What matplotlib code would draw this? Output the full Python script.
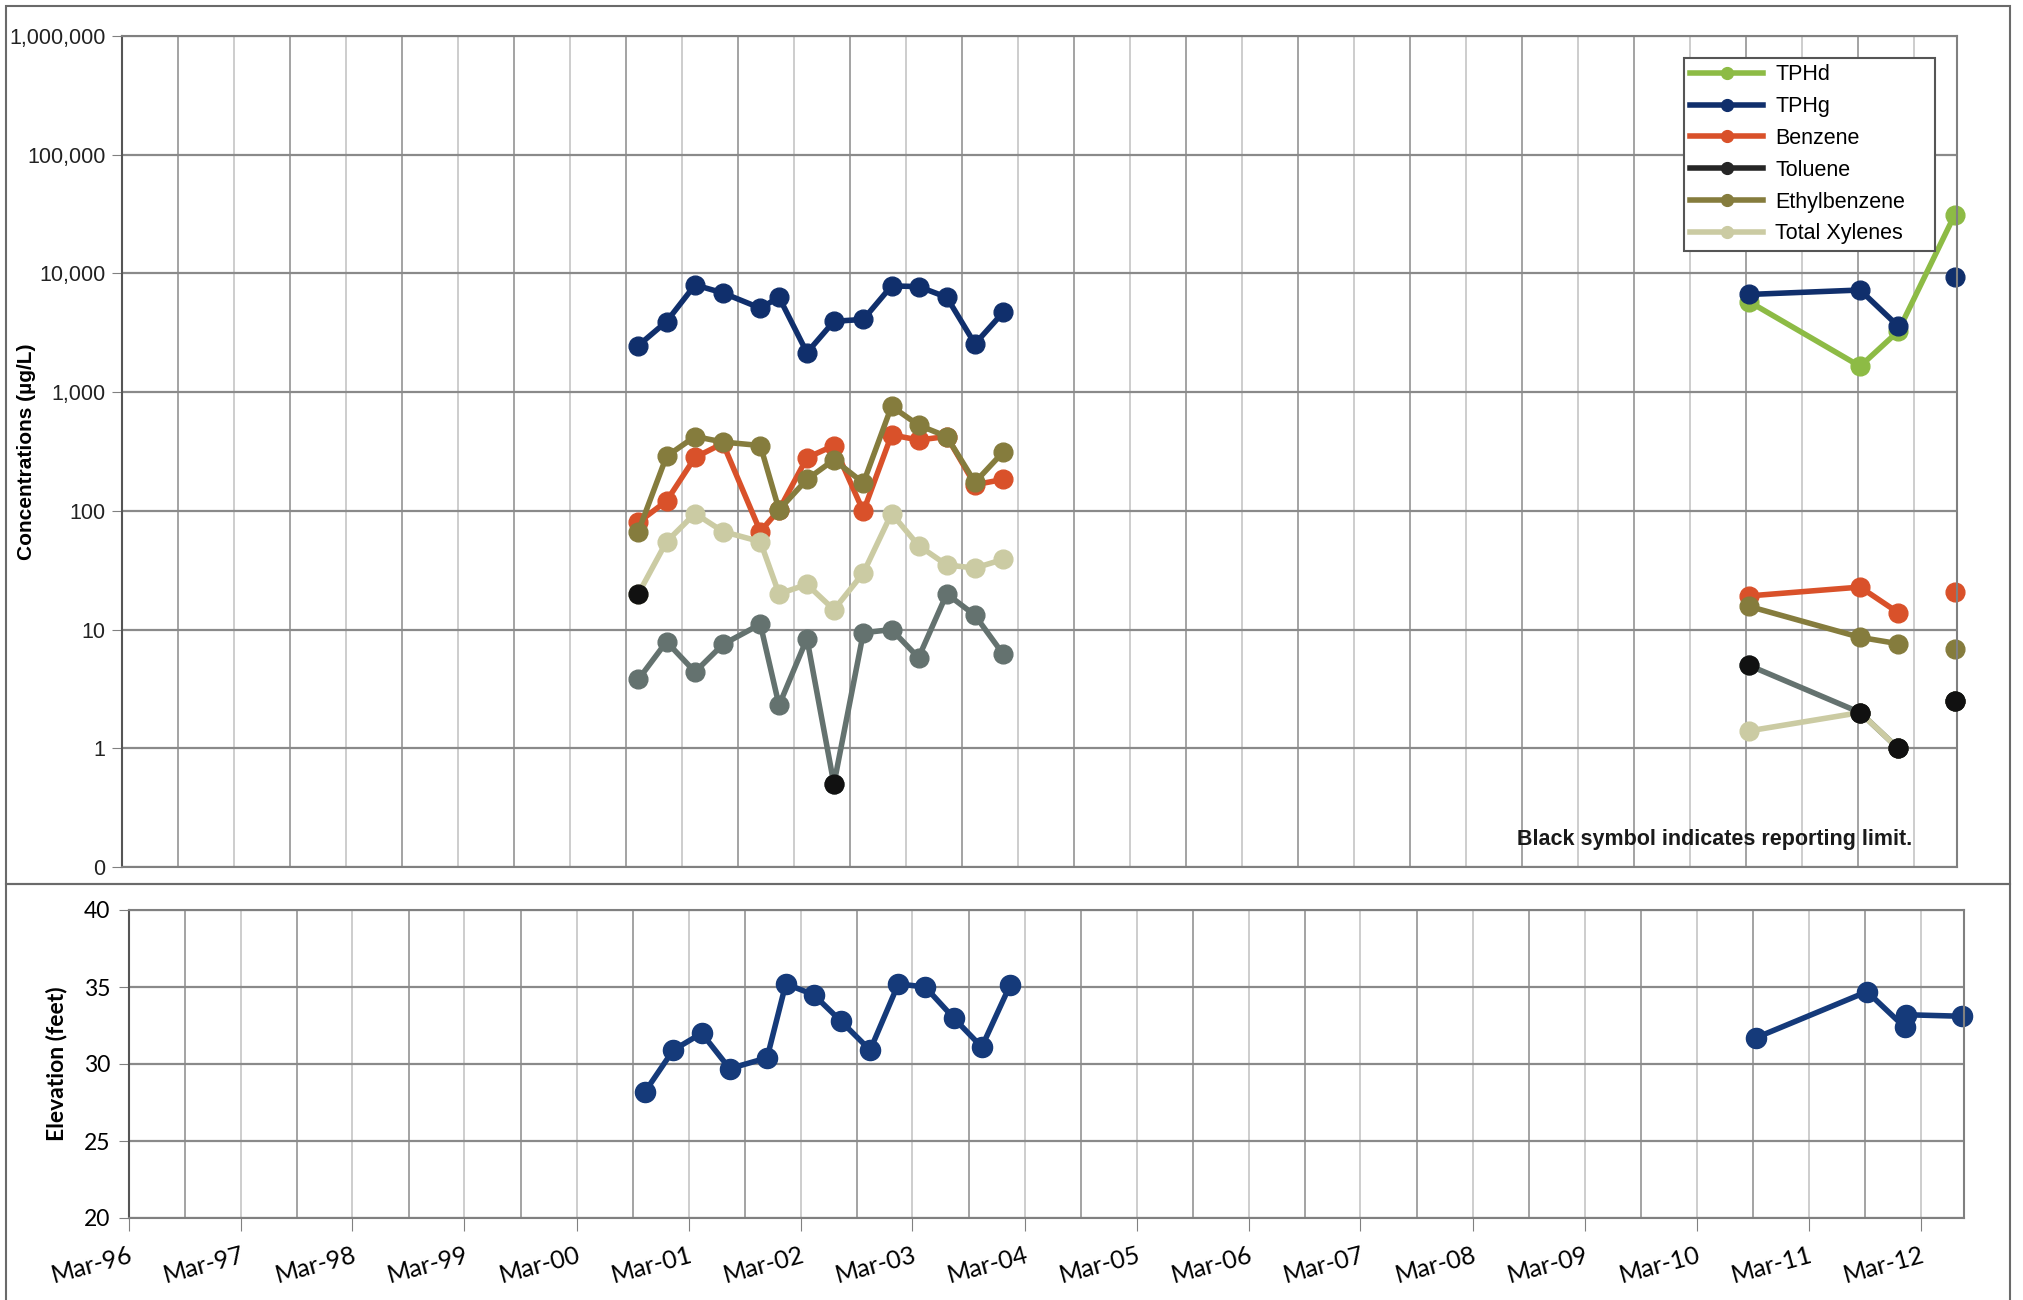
import matplotlib
matplotlib.use("Agg")
import matplotlib.pyplot as plt
import matplotlib.dates as mdates
from matplotlib.lines import Line2D
from matplotlib.patches import Rectangle
from matplotlib.ticker import FixedLocator, NullFormatter
import numpy as np
import pandas as pd
from datetime import datetime

nan = np.nan

# sampling events (two monitoring periods)
sample_dates = pd.to_datetime([
    "2000-10-10", "2001-01-10", "2001-04-13", "2001-07-13", "2001-11-12",
    "2002-01-12", "2002-04-13", "2002-07-10", "2002-10-14", "2003-01-14",
    "2003-04-12", "2003-07-13", "2003-10-13", "2004-01-13",
    "2010-09-10", "2011-09-08", "2012-01-10", "2012-07-12",
])

# concentrations, ug/L
tphd = [nan] * 14 + [5800, 1650, 3250, 31000]
tphg = [2470, 3930, 8000, 6850, 5100, 6300, 2150, 3950, 4100, 7850,
        7750, 6300, 2550, 4700, 6650, 7250, 3600, 9400]
benzene = [80, 121, 282, 370, 67, 102, 280, 355, 99, 437,
           395, 423, 166, 184, 19.2, 22.8, 13.9, 20.9]
toluene = [3.8, 7.9, 4.4, 7.5, 11.1, 2.3, 8.4, 0.5, 9.4, 10.0,
           5.8, 20, 13.2, 6.2, 5.0, 2.0, 1.0, 2.5]
ethylbenzene = [67, 288, 423, 380, 355, 102, 184, 269, 172, 760,
                527, 423, 174, 313, 15.7, 8.6, 7.6, 6.8]
xylenes = [20, 55, 95, 67, 55, 20, 24, 14.7, 30, 95,
           51, 35, 33, 39, 1.4, 2.0, 1.0, 2.5]

# indices of results at the reporting limit
toluene_rl = [7, 14, 15, 16, 17]
xylenes_rl = [0, 15, 16, 17]

# groundwater elevation, feet
elev_dates = pd.to_datetime([
    "2000-10-10", "2001-01-10", "2001-04-13", "2001-07-13", "2001-11-12",
    "2002-01-12", "2002-04-13", "2002-07-10", "2002-10-14", "2003-01-14",
    "2003-04-12", "2003-07-13", "2003-10-13", "2004-01-13",
    "2010-09-10", "2011-09-08", "2012-01-08", "2012-01-12", "2012-07-12",
])
elevation = [28.2, 30.9, 32.0, 29.7, 30.4, 35.2, 34.5, 32.8, 30.9, 35.2,
             35.0, 33.0, 31.1, 35.1, 31.7, 34.7, 32.4, 33.2, 33.1]

conc_ticks = [0.1, 1, 10, 100, 1000, 10000, 100000, 1000000]
conc_tick_labels = ["0", "1", "10", "100", "1,000", "10,000", "100,000", "1,000,000"]
elev_ticks = [20, 25, 30, 35, 40]

X_MIN = datetime(1996, 3, 1)
X_MAX = datetime(2012, 7, 20)

W, H = 2023, 1300


def plot_segments(ax, x, y, breaks, **kw):
    # lines are not joined across a break index
    edges = [0] + list(breaks) + [len(y)]
    for a, b in zip(edges[:-1], edges[1:]):
        ax.plot(x[a:b], y[a:b], **kw)


def style_dates(ax):
    ax.set_xlim(X_MIN, X_MAX)
    ax.xaxis.set_major_locator(mdates.MonthLocator(bymonth=[3]))
    ax.xaxis.set_minor_locator(mdates.MonthLocator(bymonth=[9]))
    ax.grid(True, which="major", axis="x", color="#c9c9c9", lw=1.3)
    ax.grid(True, which="minor", axis="x", color="#9c9c9c", lw=1.3)
    ax.grid(True, which="major", axis="y", color="#8a8a8a", lw=1.6)
    ax.set_axisbelow(True)
    for s in ax.spines.values():
        s.set_color("#808080")
        s.set_linewidth(1.5)
    ax.spines["left"].set_color("#555555")


fig = plt.figure(figsize=(W / 100, H / 100), dpi=100)

# panel frames
fig.add_artist(Rectangle((6 / W, 1 - 884 / H), (2010 - 6) / W, (884 - 6) / H,
                         transform=fig.transFigure, fill=False,
                         edgecolor="#6a6a6a", lw=1.5))
fig.add_artist(Rectangle((6 / W, -0.01), (2010 - 6) / W, 1 - 884 / H + 0.01,
                         transform=fig.transFigure, fill=False,
                         edgecolor="#6a6a6a", lw=1.5))

# concentrations
ax = fig.add_axes([122 / W, 1 - 867 / H, (1957 - 122) / W, (867 - 36) / H])
ax.set_yscale("log")
ax.set_ylim(0.1, 1000000)
ax.yaxis.set_major_locator(FixedLocator(conc_ticks))
ax.yaxis.set_minor_locator(FixedLocator([]))
ax.set_yticklabels(conc_tick_labels, fontsize=15.5, family="Liberation Sans",
                   color="#222222")
style_dates(ax)
ax.xaxis.set_major_formatter(NullFormatter())
ax.tick_params(axis="x", which="both", length=0)
ax.tick_params(axis="y", length=7, color="#808080", pad=5)
ax.set_ylabel("Concentrations (\u00b5g/L)", fontsize=15, fontweight="bold",
              family="Liberation Sans", va="center")
ax.yaxis.set_label_coords(-0.052, 0.5)

series = [
    ("TPHd", tphd, "#8dbb45", "#8dbb45", []),
    ("TPHg", tphg, "#102f6c", "#102f6c", [14, 17]),
    ("Benzene", benzene, "#d9512a", "#d9512a", [14, 17]),
    ("Toluene", toluene, "#64726f", "#262626", [14, 17]),
    ("Ethylbenzene", ethylbenzene, "#857c3d", "#857c3d", [14, 17]),
    ("Total Xylenes", xylenes, "#cbcba3", "#cbcba3", [14, 17]),
]

mk = dict(marker="o", markersize=13.5, lw=4, clip_on=False)
handles = []
for name, vals, color, key_color, breaks in series:
    plot_segments(ax, sample_dates, np.array(vals, dtype=float), breaks,
                  color=color, markerfacecolor=color, markeredgecolor=color, **mk)
    handles.append(Line2D([], [], color=key_color, lw=4, marker="o",
                          markersize=8.5, label=name))

# reporting-limit results drawn on top in black
for vals, idx in [(toluene, toluene_rl), (xylenes, xylenes_rl)]:
    ax.plot(sample_dates[idx], np.array(vals)[idx], ls="none", marker="o",
            markersize=13.5, color="#111111", clip_on=False, zorder=5)

leg = ax.legend(handles=handles, loc="upper left",
                bbox_to_anchor=(0.851, 0.7485, 0.137, 0.225), mode="expand",
                fancybox=False, edgecolor="#555555", framealpha=1,
                prop={"family": "Liberation Sans", "size": 15.5},
                handlelength=3.4, labelspacing=0.5, borderpad=0.3,
                handletextpad=0.55, borderaxespad=0)
leg.get_frame().set_linewidth(1.5)

ax.text(0.9755, 0.0325, "Black symbol indicates reporting limit.",
        transform=ax.transAxes, ha="right", va="center", fontsize=15.5,
        fontweight="bold", family="Liberation Sans", color="#1a1a1a")

# groundwater elevation
bx = fig.add_axes([128.6 / W, 1 - 1218 / H, (1964 - 128.6) / W, (1218 - 910) / H])
bx.set_ylim(20, 40)
bx.set_yticks(elev_ticks)
style_dates(bx)
bx.xaxis.set_major_formatter(mdates.DateFormatter("%b-%y"))
bx.tick_params(axis="x", which="major", length=9, color="#808080", pad=9)
bx.tick_params(axis="x", which="minor", length=0)
bx.tick_params(axis="y", length=7, color="#808080", pad=6)
for lab in bx.get_xticklabels():
    lab.set_rotation(15)
    lab.set_rotation_mode("anchor")
    lab.set_ha("right")
    lab.set_va("top")
    lab.set_family("Lato")
    lab.set_fontsize(18)
for lab in bx.get_yticklabels():
    lab.set_family("Lato")
    lab.set_fontsize(16.5)
bx.set_ylabel("Elevation (feet)", fontsize=16.5, fontweight="bold", family="Lato",
              va="center")
bx.yaxis.set_label_coords(-0.0395, 0.5)

plot_segments(bx, elev_dates, np.array(elevation), [14],
              color="#153a7a", markerfacecolor="#153a7a",
              markeredgecolor="#153a7a", marker="o", markersize=14.5, lw=4,
              clip_on=False)

fig.savefig("out.png", dpi=100, facecolor="white")
